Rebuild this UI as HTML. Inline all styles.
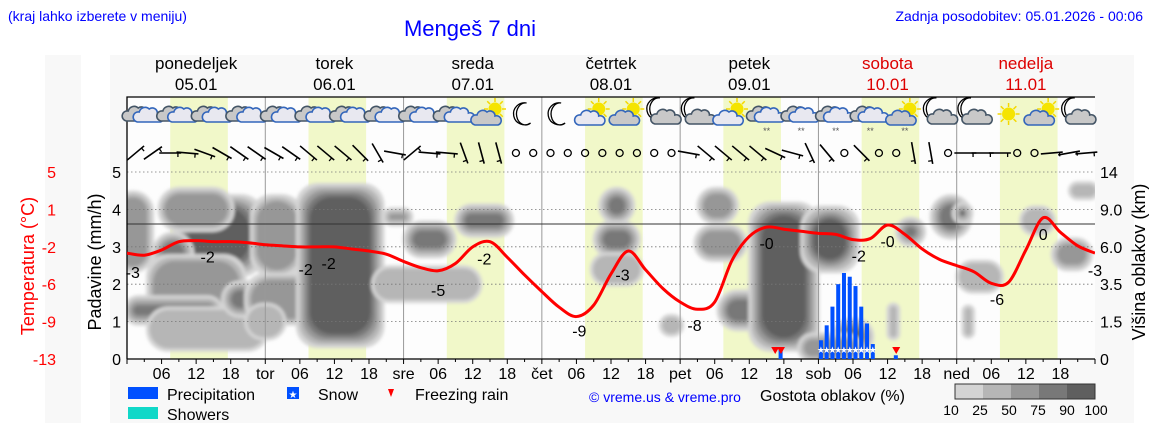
<!DOCTYPE html>
<html><head><meta charset="utf-8"><style>
html,body{margin:0;padding:0;background:#fff;width:1152px;height:443px;overflow:hidden}
svg{display:block;font-family:"Liberation Sans","DejaVu Sans",sans-serif}
</style></head><body>
<svg id="c" width="1152" height="443" viewBox="0 0 1152 443" xmlns="http://www.w3.org/2000/svg">
<defs>
<filter id="bl" x="-50%" y="-50%" width="200%" height="200%"><feGaussianBlur stdDeviation="1.5"/></filter>
<clipPath id="pc"><rect x="127" y="97" width="968" height="262"/></clipPath>
</defs>
<rect x="45" y="55" width="36" height="368" fill="#f8f8f8"/>
<rect x="110" y="55" width="1024" height="368" fill="#f8f8f8"/>
<text x="8" y="21" font-size="14" fill="#0000ff">(kraj lahko izberete v meniju)</text>
<text x="470" y="36" font-size="22" fill="#0000ff" text-anchor="middle">Mengeš 7 dni</text>
<text x="1143" y="21" font-size="14" fill="#0000ff" text-anchor="end">Zadnja posodobitev: 05.01.2026 - 00:06</text>
<g id="g"></g>
</svg>
<script>
const dayNames=["ponedeljek","torek","sreda","četrtek","petek","sobota","nedelja"];
const dayDates=["05.01","06.01","07.01","08.01","09.01","10.01","11.01"];
const dayShort=["tor","sre","čet","pet","sob","ned"];
const tempHours=[0,3,6,9,12,15,18,21,24,27,30,33,36,39,42,45,48,51,54,57,60,63,66,69,72,75,78,81,84,87,90,93,96,99,102,105,108,111,114,117,120,123,126,129,132,135,138,141,144,147,150,153,156,159,162,165,168];
const tempVals=[-2.8,-3.0,-2.5,-1.7,-1.6,-1.7,-1.7,-1.8,-2.0,-2.1,-2.2,-2.2,-2.2,-2.4,-2.6,-2.9,-3.6,-4.2,-4.5,-3.8,-2.2,-1.7,-3.2,-4.9,-6.5,-8.0,-8.9,-7.8,-4.8,-2.6,-4.4,-6.2,-7.5,-8.2,-7.5,-3.5,-1.2,-0.3,-0.5,-0.7,-0.9,-1.0,-1.5,-1.4,-0.1,-1.0,-2.4,-3.4,-4.0,-4.6,-5.7,-5.6,-2.5,0.6,-0.8,-2.1,-2.8];
const labHours=[1,14,31,35,54,62,78.5,86,98.5,111,127,132,151,159,168];
const labTexts=["-3","-2","-2","-2","-5","-2","-9","-3","-8","-0","-2","-0","-6","0","-3"];
const labOffsets=[18,15,22,16,19,15,16,16,17,16,16,16,16,16,17];
const precHours=[113,120,121,122,123,124,125,126,127,128,129,133];
const precVals=[0.25,0.5,0.9,1.4,2.0,2.3,2.2,1.95,1.4,0.95,0.4,0.1];
const snowHours=[120,121,122,123,124,125,126,127,128,129];
const frzHours=[112.5,113.5,133.5];
const iconTypes=["c","c","c","c","c","c","c","c","c","c","sc","m","m","sc","sc","mc","mc","sc","cs","cs","cs","cs","scs","mc","mc","s","sc","mc"];
const windAngles=[-40,-35,0,5,20,30,35,35,30,35,40,40,40,45,60,10,-40,5,5,70,75,75,null,null,null,null,null,null,null,null,null,null,10,40,40,40,40,25,15,65,50,null,45,null,null,80,80,null,0,0,0,null,null,-5,-10,-5];
// cloud blobs: [hour, level(mm axis), halfWidthHours, halfHeight, density 0-4]
const blobH=[1,16,12,8,12,8,14,22,26,27,37,24,52.5,47,62,52,85,85,85,94.5,102.5,103,108,114,122,126,136,143,145,148,158,164,166,133,146,122];
const blobL=[3.4,3.3,4.0,2.7,1.8,1.3,0.8,1.6,3.3,1.6,2.5,1.0,3.2,3.8,3.7,2.0,4.1,3.2,2.4,0.9,4.1,3.1,1.3,2.2,3.2,0.6,3.4,3.8,3.9,2.2,3.7,2.8,4.5,1.0,1.0,0.3];
const blobW=[3,7,6,3,8,8,10,5,4,6,7,3,4,2,4.5,9,2.5,3.5,4,1.5,3,4,5,5.5,4.5,3,2,3,1.2,3.5,2.5,3,2,0.5,0.5,5];
const blobR=[1.0,1.0,0.5,0.6,0.9,0.3,0.5,0.4,1.0,0.6,2.1,0.4,0.4,0.15,0.35,0.4,0.4,0.4,0.35,0.2,0.4,0.4,0.45,1.9,0.8,0.4,0.3,0.5,0.2,0.35,0.3,0.35,0.15,0.4,0.35,0.3];
const blobD=[2,4,2,3,2,3,1,3,2,2,4,1,3,2,3,1,3,3,1,1,2,2,3,4,4,4,3,3,4,1,1,2,1,1,1,2];
const leftTicks=["5","1","-2","-6","-9","-13"];
const rightTicks=["14","9.0","6.0","3.5","1.5","0"];
const shades=["#d4d4d4","#b6b6b6","#979797","#787878","#5f5f5f"];

const X0=127,X1=1095,Y0=97,YB=359,HOURS=168;
const xH=h=>X0+(X1-X0)*h/HOURS;
const yP=v=>YB-37.4*v;
const yT=t=>224-10.4*t;
const NS="http://www.w3.org/2000/svg";
const root=document.getElementById('g');
function mk(tag,attrs,parent){const e=document.createElementNS(NS,tag);for(const k in attrs)e.setAttribute(k,attrs[k]);(parent||root).appendChild(e);return e;}

let bg=mk('rect',{x:X0,y:Y0,width:X1-X0,height:YB-Y0,fill:'#fdfdfd'});


for(let d=0;d<7;d++){
  let b=mk('rect',{x:xH(d*24+7.5),y:Y0,width:xH(10)-X0,height:YB-Y0,fill:'#f1f8c9'});
  
  
}
const cg=mk('g',{'clip-path':'url(#pc)'});
const cgi=mk('g',{filter:'url(#bl)'},cg);
for(let i=0;i<blobH.length;i++){
  const d=blobD[i];
  const cx=xH(blobH[i]),cy=yP(blobL[i]);
  const rx=blobW[i]*5.76+4,ry=blobR[i]*37.4+4;
  const bgp=mk('g',{},cgi);
  
  
  for(let k=0;k<=d;k++){
    const ins=k*3.5;
    const w=Math.max(2,rx-ins),h=Math.max(2,ry-ins);
    mk('rect',{x:cx-w,y:cy-h,width:2*w,height:2*h,rx:Math.min(w,h,22),fill:shades[k]},bgp);
  }
}
for(let v=1;v<=5;v++){
  let l=mk('line',{x1:X0,x2:X1,y1:yP(v),y2:yP(v),stroke:'#777','stroke-width':0.8,'stroke-dasharray':'1.5,2.5'});
  
  
}
for(let d=1;d<7;d++){
  let l=mk('line',{x1:xH(d*24),x2:xH(d*24),y1:Y0,y2:YB,stroke:'#999','stroke-width':1});
  
  
}
let zl=mk('line',{x1:X0,x2:X1,y1:yT(0),y2:yT(0),stroke:'#333','stroke-width':1});


let fr=mk('path',{d:`M${X0},${YB} L${X0},${Y0} L${X1},${Y0} M${X0},${YB} L${X1},${YB}`,stroke:'#000','stroke-width':1.3,fill:'none'});


for(let h=0;h<=HOURS;h+=3){
  let t=mk('line',{x1:xH(h),x2:xH(h),y1:YB,y2:YB+(h%6==0?5:3),stroke:'#000','stroke-width':1});
  
  
}
precHours.forEach((h,i)=>{
  let r=mk('rect',{x:xH(h)+0.5,y:yP(precVals[i]),width:4,height:YB-yP(precVals[i]),fill:'#0050ff'});
  
  
});
snowHours.forEach(h=>{
  let s=mk('text',{x:xH(h)+2.5,y:YB-6,'font-size':9,fill:'#fff','text-anchor':'middle'});
  s.textContent='★';
  
  
});
frzHours.forEach(h=>{
  let p=mk('path',{d:`M${xH(h)-4},${YB-12} L${xH(h)+4},${YB-12} L${xH(h)},${YB-5} Z`,fill:'#ff0000'});
  
  
});
let pts=tempHours.map((h,i)=>[xH(h),yT(tempVals[i])]);
let dd=`M${pts[0][0]},${pts[0][1]}`;
for(let i=0;i<pts.length-1;i++){
  const p0=pts[Math.max(0,i-1)],p1=pts[i],p2=pts[i+1],p3=pts[Math.min(pts.length-1,i+2)];
  dd+=` C${p1[0]+(p2[0]-p0[0])/6},${p1[1]+(p2[1]-p0[1])/6} ${p2[0]-(p3[0]-p1[0])/6},${p2[1]-(p3[1]-p1[1])/6} ${p2[0]},${p2[1]}`;
}
let tl=mk('path',{d:dd,fill:'none',stroke:'#ff0000','stroke-width':3,'clip-path':'url(#pc)'});


function tempAt(h){for(let i=0;i<tempHours.length-1;i++){if(h<=tempHours[i+1]){const f=(h-tempHours[i])/(tempHours[i+1]-tempHours[i]);return tempVals[i]+f*(tempVals[i+1]-tempVals[i]);}}return tempVals[tempVals.length-1];}
labHours.forEach((h,i)=>{
  let t=mk('text',{x:xH(h),y:yT(tempAt(h))+labOffsets[i]+6,'font-size':16,fill:'#000','text-anchor':'middle'});
  t.textContent=labTexts[i];
  
  
});
function cloud(g,cx,cy,col,stroke){
  mk('path',{d:`M${cx-12},${cy+7} a5,5 0 0 1 2,-10 a6,6 0 0 1 10,-3 a5,5 0 0 1 8,4 a4.5,4.5 0 0 1 3,9 Z`,fill:col,stroke:stroke,'stroke-width':1.6},g);
}
iconTypes.forEach((t,i)=>{
  const cx=xH(3+6*i),cy=114;
  const g=mk('g',{});
  
  
  if(t.includes('s')&&t!='cs'){
    const sx=t=='s'?cx:cx+5,sy=t=='s'?cy:cy-5;
    for(let a=0;a<8;a++){const an=a*Math.PI/4;mk('line',{x1:sx+Math.cos(an)*7,y1:sy+Math.sin(an)*7,x2:sx+Math.cos(an)*11,y2:sy+Math.sin(an)*11,stroke:'#f5d800','stroke-width':1.5},g);}
    mk('circle',{cx:sx,cy:sy,r:6.5,fill:'#f5e400'},g);
  }
  if(t.includes('m')){
    const mx=t=='m'?cx:cx-5,my=t=='m'?cy:cy-5;
    mk('path',{d:`M${mx+2},${my-11} a11,11 0 1 0 4,20 a9,11 0 1 1 -4,-20 Z`,fill:'#fff',stroke:'#000','stroke-width':1.3},g);
  }
  if(t.includes('c')){
    if(t=='c'){cloud(g,cx-6,cy,'#c8c8c8','#445566');cloud(g,cx+5,cy+1,'#e8e8f0','#3366bb');}
    else if(t=='cs'){cloud(g,cx-4,cy,'#c8c8c8','#445566');cloud(g,cx+4,cy+1,'#e8e8f0','#3366bb');}
    else if(t=='scs'||t=='sc'){cloud(g,cx-3,cy+4,t=='sc'&&i%2?'#e8e8f0':'#c8c8c8','#3366bb');}
    else cloud(g,cx+4,cy+3,'#c8c8c8','#445566');
  }
  if(t=='cs'||t=='scs'){let s=mk('text',{x:cx,y:cy+20,'font-size':9,fill:'#555','text-anchor':'middle'},g);s.textContent='**';}
});
windAngles.forEach((a,i)=>{
  const cx=xH(1.5+3*i),cy=153;
  const g=mk('g',{});
  
  
  if(a===null){mk('circle',{cx:cx,cy:cy,r:3.5,fill:'none',stroke:'#000','stroke-width':1.3},g);return;}
  const r=a*Math.PI/180,L=11;
  const dx=Math.cos(r)*L,dy=Math.sin(r)*L;
  mk('line',{x1:cx-dx,y1:cy-dy,x2:cx+dx,y2:cy+dy,stroke:'#000','stroke-width':1.6},g);
  mk('line',{x1:cx+dx*0.7,y1:cy+dy*0.7,x2:cx+dx*0.7-Math.sin(r)*4,y2:cy+dy*0.7+Math.cos(r)*4,stroke:'#000','stroke-width':1.3},g);
});
dayNames.forEach((n,d)=>{
  const col=d>=5?'#dd0000':'#000';
  let t=mk('text',{x:xH(d*24+12),y:69,'font-size':17,fill:col,'text-anchor':'middle'});
  t.textContent=n;
  
  
  let t2=mk('text',{x:xH(d*24+12),y:90,'font-size':17,fill:col,'text-anchor':'middle'});
  t2.textContent=dayDates[d];
  
  
});
for(let k=1;k<28;k++){
  const h=6*k;
  const lab=h%24==0?dayShort[h/24-1]:String(h%24).padStart(2,'0');
  let t=mk('text',{x:xH(h),y:379,'font-size':16,fill:'#000','text-anchor':'middle'});
  t.textContent=lab;
  
  
}
for(let v=0;v<=5;v++){
  let t=mk('text',{x:121,y:yP(v)+6,'font-size':16,fill:'#000','text-anchor':'end'});
  t.textContent=String(v);
  
  
  let t2=mk('text',{x:56,y:yP(5-v)+6,'font-size':16,fill:'#ff0000','text-anchor':'end'});
  t2.textContent=leftTicks[v];
  
  
  let t3=mk('text',{x:1100,y:yP(5-v)+6,'font-size':16,fill:'#000'});
  t3.textContent=rightTicks[v];
  
  
}
function vtext(x,y,s,col,name){let t=mk('text',{x:x,y:y,'font-size':18,fill:col,'text-anchor':'middle',transform:`rotate(-90 ${x} ${y})`});t.textContent=s;}
vtext(34,266,'Temperatura (°C)','#ff0000','temp-axis-title');
vtext(101,262,'Padavine (mm/h)','#000','precip-axis-title');
vtext(1145,262,'Višina oblakov (km)','#000','cloud-axis-title');
function legRect(x,y,c,name){let r=mk('rect',{x:x,y:y,width:30,height:12,fill:c});return r;}
function legText(x,y,s,name,col,anchor,size){let t=mk('text',{x:x,y:y,'font-size':size||16,fill:col||'#000','text-anchor':anchor||'start'});t.textContent=s;return t;}
legRect(128,387,'#0050ff','legend-precipitation-swatch');legText(167,400,'Precipitation','legend-precipitation');
let sw=mk('rect',{x:287,y:387,width:12,height:12,fill:'#0050ff'});
let st=mk('text',{x:293,y:398,'font-size':10,fill:'#fff','text-anchor':'middle'});st.textContent='★';
legText(318,400,'Snow','legend-snow');
let ft=mk('path',{d:'M388,389 L394,389 L391,397 Z',fill:'#ff0000'});
legText(415,400,'Freezing rain','legend-freezing-rain');
legRect(128,407,'#10d8c8','legend-showers-swatch');legText(167,420,'Showers','legend-showers');
legText(665,402,'© vreme.us & vreme.pro','copyright','#0000ff','middle',14);
legText(760,401,'Gostota oblakov (%)','legend-cloud-density');
shades.forEach((c,i)=>{let r=mk('rect',{x:955+i*28,y:384,width:28,height:15,fill:c});});
let lb=mk('rect',{x:955,y:384,width:140,height:15,fill:'none',stroke:'#333','stroke-width':1});
["10","25","50","75","90","100"].forEach((s,i)=>{let t=mk('text',{x:951+i*29,y:415,'font-size':14,fill:'#000','text-anchor':'middle'});t.textContent=s;});
</script>
</body></html>
